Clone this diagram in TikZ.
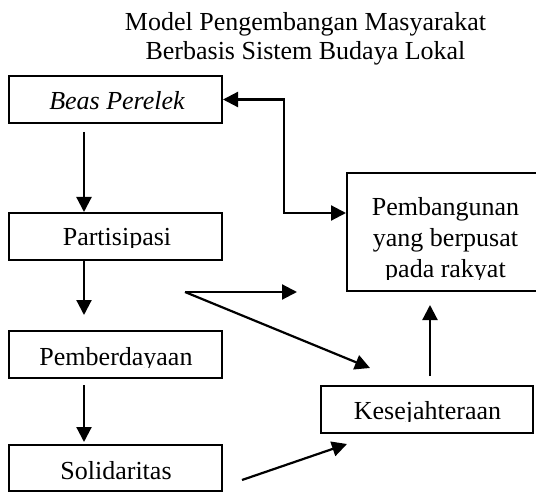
\documentclass[tikz,border=0pt]{standalone}
\usepackage{fontspec}
\setmainfont{Liberation Serif}
\usetikzlibrary{arrows.meta}
\begin{document}
\begin{tikzpicture}[x=1pt,y=-1pt,
  txt/.style={font=\fontsize{26}{31}\selectfont},
  box/.style={draw, line width=2pt, inner sep=0pt},
  lbl/.style={txt, anchor=base, inner sep=0pt},
  arr/.style={line width=2.2pt, -{Triangle[length=15pt,width=15pt]}},
  darr/.style={line width=2.2pt, {Triangle[length=15pt,width=15pt]}-{Triangle[length=15pt,width=15pt]}}]
\useasboundingbox (0,0) rectangle (536,492);

% title
\node[txt, font=\fontsize{26}{29}\selectfont, align=center, anchor=north, inner sep=0pt] (title) at (305.5,12.2)
  {Model Pengembangan Masyarakat\\Berbasis Sistem Budaya Lokal};

% boxes
\node[box, minimum width=213pt, minimum height=47pt] (beas) at (115.5,99.5) {};
\node[box, minimum width=213pt, minimum height=47pt] (part) at (115.5,236.5) {};
\node[box, minimum width=213pt, minimum height=47pt] (pemb) at (115.5,354.5) {};
\node[box, minimum width=213pt, minimum height=46pt] (soli) at (115.5,468) {};
\node[box, minimum width=212pt, minimum height=47pt] (kes) at (427,409.5) {};
\node[box, minimum width=197pt, minimum height=118pt] (pbg) at (445.5,232) {};

% box texts (descenders cut by the box text area, as in the reference)
\node[lbl] (beastext) at (117,110) {\itshape Beas Perelek};
\begin{scope}
  \clip (part.north west) rectangle (222,247.5);
  \node[lbl] (parttext) at (117,245) {Partisipasi};
\end{scope}
\begin{scope}
  \clip (pemb.north west) rectangle (222,367.5);
  \node[lbl] (pembtext) at (116,365) {Pemberdayaan};
\end{scope}
\node[lbl] (solitext) at (116,479) {Solidaritas};
\begin{scope}
  \clip (kes.north west) rectangle (533,421.5);
  \node[lbl] (kestext) at (427.5,419.5) {Kesejahteraan};
\end{scope}
\begin{scope}
  \clip (pbg.north west) rectangle (540,279.5);
  \node[txt, align=center, anchor=north, inner sep=0pt] (pbgtext) at (445.5,197.2)
    {Pembangunan\\yang berpusat\\pada rakyat};
\end{scope}

% helper coordinates for free ends
\coordinate (b1) at (284,99.5);
\coordinate (b2) at (284,213);
\coordinate (a1) at (84,132);
\coordinate (a2) at (84,315);
\coordinate (a3) at (84,385);
\coordinate (a4) at (84,442);
\coordinate (fork) at (185,292);
\coordinate (fh) at (297,292);
\coordinate (fd) at (370,368);
\coordinate (s1) at (242,480);
\coordinate (s2) at (347,444);
\coordinate (k1) at (430,376);
\coordinate (k2) at (430,305);

% connectors
\draw[arr] (a1) -- (a1 |- part.north);
\draw[darr] (beas.east) -- (b1) -- (b2) -- (b2 -| pbg.west);
\draw[arr] (a1 |- part.south) -- (a2);
\draw[arr] (a3) -- (a4);
\draw[arr] (fork) -- (fh);
\draw[arr] (fork) -- (fd);
\draw[arr] (s1) -- (s2);
\draw[arr] (k1) -- (k2);
\end{tikzpicture}
\end{document}
